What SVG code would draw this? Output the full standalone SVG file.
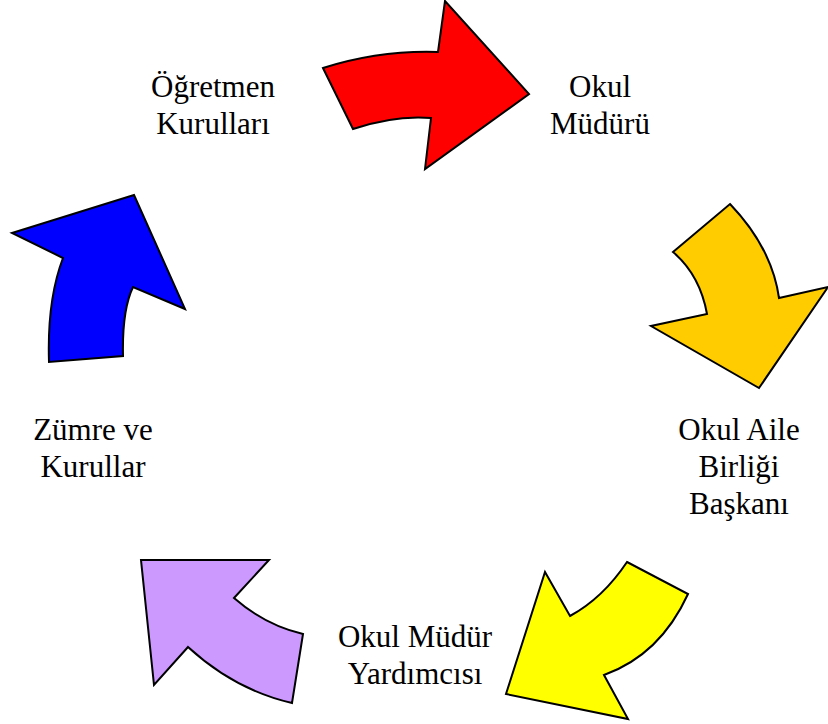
<svg xmlns="http://www.w3.org/2000/svg" width="828" height="724" viewBox="0 0 828 724">
<style>
.arrow{stroke:#000;stroke-width:2;stroke-linejoin:miter}
.lbl{font-size:31px;fill:#000;text-anchor:middle}
</style>
<rect width="828" height="724" fill="#fff"/>
<g id="connectors">
<path id="arrow-red" class="arrow" fill="#FF0000" d="M323,68 Q380,50 438,52 L445,1 L529,94 L425,169 L431,118 Q395,115 353,129 Z"/>
<path id="arrow-orange" class="arrow" fill="#FFCC00" d="M673,252 L730,204 Q772,248 779,298 L828,287 L759,388 L651,326 L707,314 Q700,275 673,252 Z"/>
<path id="arrow-yellow" class="arrow" fill="#FFFF00" d="M627,562 L688,594 Q660,655 604,675 L628,719 L506,694 L545,572 L570,616 Q603,598 627,562 Z"/>
<path id="arrow-purple" class="arrow" fill="#CC99FF" d="M141,560 L269,560 L234,598 Q265,625 303,634 L292,703 Q235,690 188,647 L154,685 Z"/>
<path id="arrow-blue" class="arrow" fill="#0000FF" d="M134,195 L185,309 L133,287 Q122,310 123,356 L49,362 Q47,300 63,258 L12,233 Z"/>
</g>
<g font-family="Liberation Serif, Times New Roman, serif">
<g id="node-ogretmen">
<text class="lbl" x="213" y="97">Öğretmen</text>
<text class="lbl" x="213" y="134">Kurulları</text>
</g>
<g id="node-mudur">
<text class="lbl" x="600" y="97">Okul</text>
<text class="lbl" x="600" y="134">Müdürü</text>
</g>
<g id="node-aile">
<text class="lbl" x="739" y="440">Okul Aile</text>
<text class="lbl" x="739" y="477">Birliği</text>
<text class="lbl" x="739" y="514">Başkanı</text>
</g>
<g id="node-yardimci">
<text class="lbl" x="415" y="647">Okul Müdür</text>
<text class="lbl" x="415" y="684">Yardımcısı</text>
</g>
<g id="node-zumre">
<text class="lbl" x="93" y="440">Zümre ve</text>
<text class="lbl" x="93" y="477">Kurullar</text>
</g>
</g>
</svg>
